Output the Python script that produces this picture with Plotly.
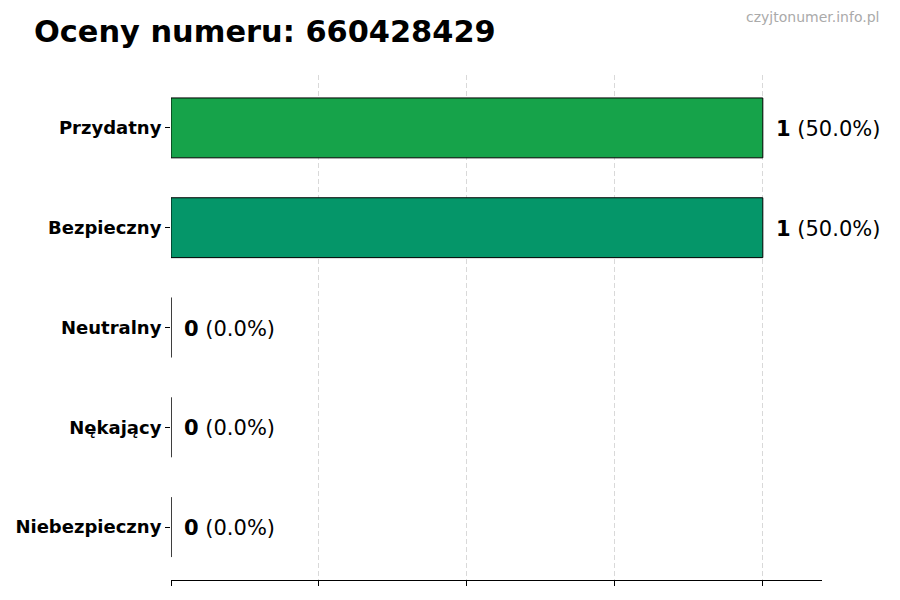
import plotly.graph_objects as go

# dane
numer = "660428429"
kategorie = ["Przydatny", "Bezpieczny", "Neutralny", "Nękający", "Niebezpieczny"]
liczby = [1, 1, 0, 0, 0]
kolory = ["#16a34a", "#059669", "#6b7280", "#ea580c", "#dc2626"]

suma = sum(liczby)
procenty = [100.0 * v / suma if suma else 0.0 for v in liczby]

# plotly rysuje kategorie od dołu, więc odwracamy kolejność
kat_r = kategorie[::-1]
liczby_r = liczby[::-1]
kolory_r = kolory[::-1]
proc_r = procenty[::-1]

bars = go.Bar(
    x=liczby_r,
    y=kat_r,
    orientation="h",
    width=0.6,
    marker=dict(color=kolory_r, line=dict(color="black", width=1)),
    hoverinfo="skip",
)

fig = go.Figure(data=[bars])

# etykiety z wartościami przy końcu słupków
for k, v, p in zip(kat_r, liczby_r, proc_r):
    fig.add_annotation(
        x=v, y=k, xref="x", yref="y",
        text="<b>%d</b> (%.1f%%)" % (v, p),
        showarrow=False, xanchor="left", xshift=11, yshift=-1,
        font=dict(family="DejaVu Sans", size=21, color="black"),
    )

fig.add_annotation(
    x=1, y=1, xref="paper", yref="paper",
    text="czyjtonumer.info.pl", showarrow=False,
    xanchor="right", yanchor="middle", yshift=58, xshift=59,
    font=dict(family="DejaVu Sans", size=14, color="#aaaaaa"),
)

fig.update_layout(
    width=900, height=600,
    margin=dict(l=163, r=86, t=67, b=28),
    plot_bgcolor="white", paper_bgcolor="white",
    showlegend=False,
    title=dict(
        text="<b>Oceny numeru: %s</b>" % numer,
        x=26 / 900, xanchor="left", y=1 - 23 / 600, yanchor="middle",
        font=dict(family="DejaVu Sans", size=30.4, color="black"),
    ),
)

fig.update_xaxes(
    range=[0, 1.1],
    tickvals=[0, 0.25, 0.5, 0.75, 1.0],
    showticklabels=False,
    ticks="outside", ticklen=5, tickcolor="black",
    showline=True, linecolor="black", linewidth=1,
    showgrid=True, gridcolor="rgba(0,0,0,0.15)", griddash="5px,3px", gridwidth=1,
    zeroline=False, layer="above traces",
)
fig.update_yaxes(
    range=[-0.53, 4.53],
    automargin=False,
    ticks="outside", ticklen=5, tickcolor="black",
    showline=False, showgrid=False, zeroline=False,
    tickfont=dict(family="DejaVu Sans", size=18, color="black"),
    ticktext=["<b>%s</b>" % k for k in kat_r], tickvals=kat_r,
)

fig.write_html("out.html")
